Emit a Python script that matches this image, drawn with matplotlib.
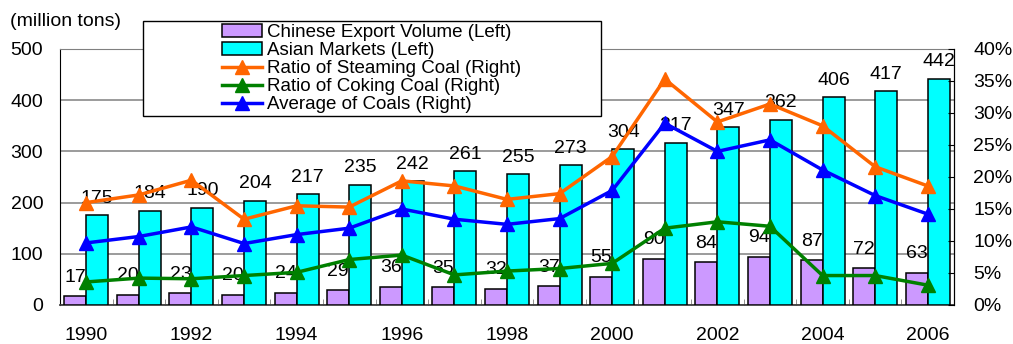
import numpy as np
import matplotlib
matplotlib.use('Agg')
import matplotlib.pyplot as plt
from matplotlib.patches import Rectangle
from matplotlib.lines import Line2D
from matplotlib.patches import Patch

plt.rcParams['font.family'] = ['Liberation Sans', 'DejaVu Sans']

years = [1990, 1991, 1992, 1993, 1994, 1995, 1996, 1997, 1998, 1999,
         2000, 2001, 2002, 2003, 2004, 2005, 2006]
chinese_export = [17, 20, 23, 20, 24, 29, 36, 35, 32, 37, 55, 90, 84, 94, 87, 72, 63]
asian_markets = [175, 184, 190, 204, 217, 235, 242, 261, 255, 273, 304, 317, 347, 362, 406, 417, 442]
steaming_ratio = [16.0, 17.2, 19.5, 13.4, 15.5, 15.3, 19.4, 18.6, 16.5, 17.4,
                  23.2, 35.3, 28.6, 31.4, 28.0, 21.6, 18.6]
coking_ratio = [3.6, 4.2, 4.1, 4.6, 5.1, 7.1, 7.8, 4.7, 5.3, 5.7,
                6.5, 12.0, 13.0, 12.3, 4.6, 4.6, 3.1]
average_ratio = [9.7, 10.7, 12.2, 9.6, 11.0, 12.0, 15.0, 13.4, 12.6, 13.5,
                 17.9, 28.4, 24.0, 25.8, 21.1, 17.1, 14.2]

purple = '#CC99FF'
cyan = '#00FFFF'
orange = '#FF6600'
green = '#008000'
blue = '#0000FF'
fs = 14

fig = plt.figure(figsize=(10.13, 3.44), dpi=100)
ax = fig.add_axes([0.0592, 0.1134, 0.8826, 0.7442])
x = np.arange(len(years))
w = 0.418

ax.bar(x - w / 2, chinese_export, w, color=purple, edgecolor='black', linewidth=1.1, zorder=3)
ax.bar(x + w / 2, asian_markets, w, color=cyan, edgecolor='black', linewidth=1.1, zorder=3)

for xi, v in zip(x, chinese_export):
    ax.annotate(str(v), (xi - w / 2, v), xytext=(0, 7.5), textcoords='offset points',
                ha='center', va='bottom', fontsize=fs, zorder=4)
for xi, v in zip(x, asian_markets):
    ax.annotate(str(v), (xi + w / 2, v), xytext=(0, 6), textcoords='offset points',
                ha='center', va='bottom', fontsize=fs, zorder=4)

ax.set_xlim(-0.5, len(years) - 0.5)
ax.set_ylim(0, 500)
ax.set_yticks(range(0, 501, 100))
ax.yaxis.grid(True, color='#808080', linewidth=1.1, zorder=0)
ax.set_axisbelow(True)
ax.set_xticks(x[::2])
ax.set_xticklabels([str(y) for y in years[::2]], fontsize=fs)
ax.set_xticks(np.arange(-0.5, len(years), 1), minor=True)
ax.tick_params(axis='x', which='major', length=0, pad=16)
ax.tick_params(axis='x', which='minor', direction='in', length=4, color='#808080')
ax.tick_params(axis='y', labelsize=fs, length=0, pad=12)
ax.spines['top'].set_color('#808080')
ax.spines['bottom'].set_color('#404040')
ax.spines['bottom'].set_linewidth(1.3)

ax.text(10 / 1013, 1 - 21 / 344, '(million tons)', transform=fig.transFigure, fontsize=fs,
        ha='left', va='center')

ax2 = ax.twinx()
ax2.plot(x, steaming_ratio, color=orange, lw=2.5, marker='^', ms=10, zorder=5)
ax2.plot(x, coking_ratio, color=green, lw=2.5, marker='^', ms=10, zorder=5)
ax2.plot(x, average_ratio, color=blue, lw=2.5, marker='^', ms=10, zorder=5)
ax2.set_ylim(0, 40)
ax2.set_yticks(range(0, 41, 5))
ax2.set_yticklabels([f'{v}%' for v in range(0, 41, 5)])
ax2.tick_params(axis='y', labelsize=fs, direction='in', length=4, pad=14)
for s in ('top', 'bottom', 'left'):
    ax2.spines[s].set_visible(False)

# legend box sits partly above the plot area
box = Rectangle((143 / 1013, 1 - 116 / 344), (601 - 143) / 1013, (116 - 21) / 344,
                transform=fig.transFigure, facecolor='white', edgecolor='black',
                linewidth=1.0, zorder=10)
fig.patches.append(box)

handles = [
    Patch(facecolor=purple, edgecolor='black', linewidth=1.1),
    Patch(facecolor=cyan, edgecolor='black', linewidth=1.1),
    Line2D([], [], color=orange, lw=2.5, marker='^', ms=10),
    Line2D([], [], color=green, lw=2.5, marker='^', ms=10),
    Line2D([], [], color=blue, lw=2.5, marker='^', ms=10),
]
labels = ['Chinese Export Volume (Left)', 'Asian Markets (Left)',
          'Ratio of Steaming Coal (Right)', 'Ratio of Coking Coal (Right)',
          'Average of Coals (Right)']
leg = fig.legend(handles, labels, loc='center', bbox_to_anchor=(372 / 1013, 1 - 68.8 / 344),
                 frameon=False, fontsize=13.5, handlelength=2.1, handletextpad=0.3,
                 labelspacing=0.05, borderpad=0)
leg.set_zorder(11)

fig.savefig('out.png', dpi=100)
